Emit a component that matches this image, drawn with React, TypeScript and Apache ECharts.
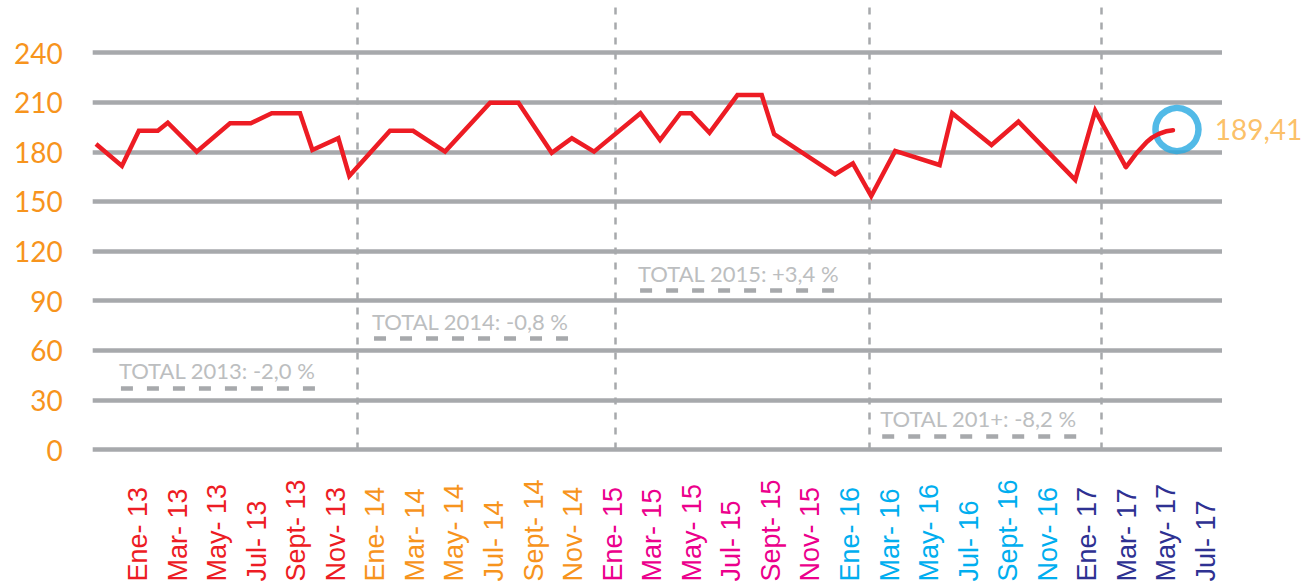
import React, { useEffect, useRef } from "react";
import * as echarts from "echarts";

// Tick labels of the bottom axis (every second month)
const xLabels = [
  "Ene- 13", "Mar- 13", "May- 13", "Jul- 13", "Sept- 13", "Nov- 13",
  "Ene- 14", "Mar- 14", "May- 14", "Jul- 14", "Sept- 14", "Nov- 14",
  "Ene- 15", "Mar- 15", "May- 15", "Jul- 15", "Sept- 15", "Nov- 15",
  "Ene- 16", "Mar- 16", "May- 16", "Jul- 16", "Sept- 16", "Nov- 16",
  "Ene- 17", "Mar- 17", "May- 17", "Jul- 17",
];
const yearColors: Record<string, string> = {
  "13": "#ED1C24",
  "14": "#F7941D",
  "15": "#EC008C",
  "16": "#00AEEF",
  "17": "#2E3192",
};

// Vertices of the drawn line: position in months since Ene-13, and value
const monthPos = [
  0, 1.3, 2.15, 3.1, 3.6, 5.05, 6.72, 7.76, 8.81, 10.23, 10.85, 12.15, 12.7,
  14.74, 15.9, 17.5, 19.76, 21.18, 22.85, 23.86, 24.97, 27.3, 28.28, 29.3,
  29.84, 30.76, 32.16, 33.38, 34.0, 37.06, 37.95, 38.87, 40.07, 42.3, 42.93,
  44.9, 46.25, 49.1, 50.1, 51.64,
];
const values = [
  184.7, 171.4, 192.7, 192.7, 197.6, 180.1, 197.2, 197.2, 203.3, 203.3, 181.1,
  188.2, 165.4, 192.7, 192.7, 180.1, 209.7, 209.7, 179.4, 188.2, 180.1, 203.3,
  187.1, 203.3, 203.3, 191.5, 214.3, 214.3, 190.7, 166.4, 173.0, 153.2, 180.5,
  172.0, 203.3, 184.1, 198.2, 163.0, 204.9, 170.7,
];
// Curved tail of the line
const tailPos = [51.64, 52.69, 53.36, 54.0];
const tailValues = [170.7, 186.0, 191.1, 193.0];
// Marker circle around the last value
const markerPos = 54.2;
const markerValue = 193.5;
const lastValueLabel = "189,41";

// Year separators (months since Ene-13)
const yearSeparators = [13.09, 26.03, 38.78, 50.4];

// Yearly total annotations
const totalTexts = [
  "TOTAL 2013: -2,0 %",
  "TOTAL 2014: -0,8 %",
  "TOTAL 2015: +3,4 %",
  "TOTAL 201+: -8,2 %",
];
const totalStart = [1.25, 13.94, 27.28, 39.42];
const totalEnd = [11.23, 24.27, 37.66, 49.45];
const totalLevel = [37.2, 67.4, 96.4, 8.2];

const GRID_BOTTOM = 135.5;
const PX_PER_UNIT = 1.654;
const LINE_Y_MAX = 268;

export default function App() {
  const ref = useRef<HTMLDivElement>(null);

  useEffect(() => {
    if (!ref.current) return;
    const chart = echarts.init(ref.current, undefined, { renderer: "svg" });
    const lineTop = 585 - GRID_BOTTOM - LINE_Y_MAX * PX_PER_UNIT;

    const option: any = {
      animation: false,
      backgroundColor: "#ffffff",
      grid: [
        { left: 92.7, right: 83, top: 52.5, bottom: GRID_BOTTOM },
        { left: 96, right: 132, top: lineTop, bottom: GRID_BOTTOM },
        { left: 138, right: 99, top: 52.5, bottom: GRID_BOTTOM },
      ],
      xAxis: [
        { gridIndex: 0, type: "value", show: false, min: 0, max: 1 },
        { gridIndex: 1, type: "value", show: false, min: 0, max: 54 },
        {
          gridIndex: 2,
          type: "category",
          data: xLabels,
          boundaryGap: false,
          axisLine: { show: false },
          axisTick: { show: false },
          splitLine: { show: false },
          axisLabel: {
            interval: 0,
            rotate: 90,
            align: "left",
            verticalAlign: "middle",
            margin: 132,
            fontFamily: "Liberation Sans",
            fontSize: 27,
            color: (value: string) => yearColors[value.slice(-2)],
          },
        },
      ],
      yAxis: [
        {
          gridIndex: 0,
          type: "value",
          min: 0,
          max: 240,
          interval: 30,
          axisLine: { show: false },
          axisTick: { show: false },
          splitLine: { show: true, lineStyle: { color: "#A7A9AC", width: 4.5 } },
          axisLabel: {
            margin: 30,
            color: "#F7941D",
            fontFamily: "Lato",
            fontSize: 28,
          },
        },
        { gridIndex: 1, type: "value", min: 0, max: LINE_Y_MAX, show: false },
        { gridIndex: 2, type: "value", show: false, min: 0, max: 1 },
      ],
      series: [
        {
          type: "line",
          xAxisIndex: 1,
          yAxisIndex: 1,
          data: [],
          z: 2,
          silent: true,
          markLine: {
            silent: true,
            symbol: ["none", "none"],
            animation: false,
            label: { show: false },
            lineStyle: { color: "#A7A9AC", width: 2.5, type: [7, 8] },
            data: yearSeparators.map((x) => ({ xAxis: x })),
          },
        },
        {
          type: "line",
          xAxisIndex: 1,
          yAxisIndex: 1,
          data: [],
          z: 2,
          silent: true,
          markLine: {
            silent: true,
            symbol: ["none", "none"],
            animation: false,
            label: {
              show: true,
              position: "insideStartTop",
              formatter: "{b}",
              color: "#BCBEC0",
              fontFamily: "Lato",
              fontSize: 22,
              distance: [-2, 6],
            },
            lineStyle: { color: "#A7A9AC", width: 4.5, type: [12, 14] },
            data: totalTexts.map((t, i) => [
              { name: t, coord: [totalStart[i], totalLevel[i]] },
              { coord: [totalEnd[i], totalLevel[i]] },
            ]),
          },
        },
        {
          type: "scatter",
          xAxisIndex: 1,
          yAxisIndex: 1,
          z: 3,
          clip: false,
          data: [[markerPos, markerValue]],
          symbol: "circle",
          symbolSize: 43,
          itemStyle: {
            color: "rgba(0,0,0,0)",
            borderColor: "#27A9E1",
            borderWidth: 6.5,
          },
          label: {
            show: true,
            position: "right",
            distance: 13,
            formatter: lastValueLabel,
            color: "#FBB040",
            fontFamily: "Lato",
            fontSize: 28,
          },
        },
        {
          type: "line",
          xAxisIndex: 1,
          yAxisIndex: 1,
          z: 5,
          showSymbol: false,
          data: monthPos.map((m, i) => [m, values[i]]),
          lineStyle: { color: "#ED1C24", width: 4.5, join: "miter" },
        },
        {
          type: "line",
          xAxisIndex: 1,
          yAxisIndex: 1,
          z: 5,
          smooth: true,
          showSymbol: false,
          data: tailPos.map((m, i) => [m, tailValues[i]]),
          lineStyle: { color: "#ED1C24", width: 4.5, cap: "round" },
        },
      ],
    };

    chart.setOption(option);
    return () => chart.dispose();
  }, []);

  return (
    <div
      ref={ref}
      style={{ position: "fixed", left: 0, top: 0, width: 1305, height: 585 }}
    />
  );
}
